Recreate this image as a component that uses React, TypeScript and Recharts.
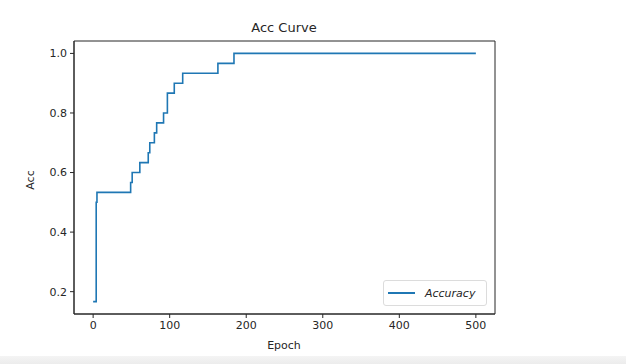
import { LineChart, Line, XAxis, YAxis, ReferenceArea } from "recharts";

// epochs where the accuracy changes (step-after)
const epochs = [0, 4, 5, 49, 51, 61, 72, 74, 80, 83, 92, 97, 106, 117, 163, 184, 500];
const accuracy = [
  0.1667, 0.5, 0.5333, 0.5667, 0.6, 0.6333, 0.6667, 0.7, 0.7333, 0.7667, 0.8,
  0.8667, 0.9, 0.9333, 0.9667, 1.0, 1.0,
];
const xTicks = [0, 100, 200, 300, 400, 500];
const yTicks = [0.2, 0.4, 0.6, 0.8, 1.0];
const xDomain = [-25, 525];
const yDomain = [0.125, 1.0417];

const data = epochs.map((e, i) => ({ epoch: e, acc: accuracy[i] }));

const FONT = "'DejaVu Sans', sans-serif";
const INK = "#262626";
const BLUE = "#1f77b4";

function LegendBox() {
  return (
    <div
      style={{
        position: "absolute",
        left: 383,
        top: 280,
        width: 104,
        height: 26,
        boxSizing: "border-box",
        border: "1px solid #dcdcdc",
        borderRadius: 3,
        background: "#fff",
        display: "flex",
        alignItems: "center",
        fontFamily: FONT,
        fontSize: 11,
        fontStyle: "italic",
        color: INK,
      }}
    >
      <span style={{ display: "inline-block", marginLeft: 4, width: 27, height: 2, background: BLUE }} />
      <span style={{ marginLeft: 10 }}>Accuracy</span>
    </div>
  );
}

export default function App() {
  const tick = { fill: INK, fontSize: 11, fontFamily: FONT };
  return (
    <div style={{ position: "absolute", left: 0, top: 0, width: 626, height: 364, background: "#fff" }}>
      <div style={{ position: "absolute", left: 0, width: 568, top: 20, textAlign: "center", fontFamily: FONT, fontSize: 13, color: INK }}>
        Acc Curve
      </div>
      <LineChart width={626} height={364} data={data} margin={{ top: 41, right: 131, left: 34, bottom: 0 }}>
        <XAxis
          dataKey="epoch"
          type="number"
          domain={xDomain}
          ticks={xTicks}
          allowDataOverflow
          height={50}
          tick={tick}
          tickSize={4}
          tickMargin={3}
          tickLine={{ stroke: INK }}
          axisLine={{ stroke: INK }}
        />
        <YAxis
          type="number"
          domain={yDomain}
          ticks={yTicks}
          allowDataOverflow
          width={40}
          tick={tick}
          tickSize={4}
          tickMargin={3}
          tickFormatter={(v: number) => v.toFixed(1)}
          tickLine={{ stroke: INK }}
          axisLine={{ stroke: INK }}
        />
        {/* matplotlib-style frame */}
        <ReferenceArea
          x1={xDomain[0]}
          x2={xDomain[1]}
          y1={yDomain[0]}
          y2={yDomain[1]}
          fill="none"
          stroke={INK}
          strokeWidth={1}
          ifOverflow="visible"
        />
        <Line
          type="stepAfter"
          dataKey="acc"
          name="Accuracy"
          stroke={BLUE}
          strokeWidth={1.6}
          dot={false}
          isAnimationActive={false}
        />
      </LineChart>
      <LegendBox />
      <div style={{ position: "absolute", left: 0, width: 568, top: 339, textAlign: "center", fontFamily: FONT, fontSize: 11, color: INK }}>
        Epoch
      </div>
      <div
        style={{
          position: "absolute",
          left: 30,
          top: 180,
          transform: "translate(-50%, -50%) rotate(-90deg)",
          fontFamily: FONT,
          fontSize: 11,
          color: INK,
        }}
      >
        Acc
      </div>
      <div style={{ position: "absolute", left: 0, top: 356, width: 626, height: 8, background: "linear-gradient(#f4f4f4, #ececec)" }} />
    </div>
  );
}
